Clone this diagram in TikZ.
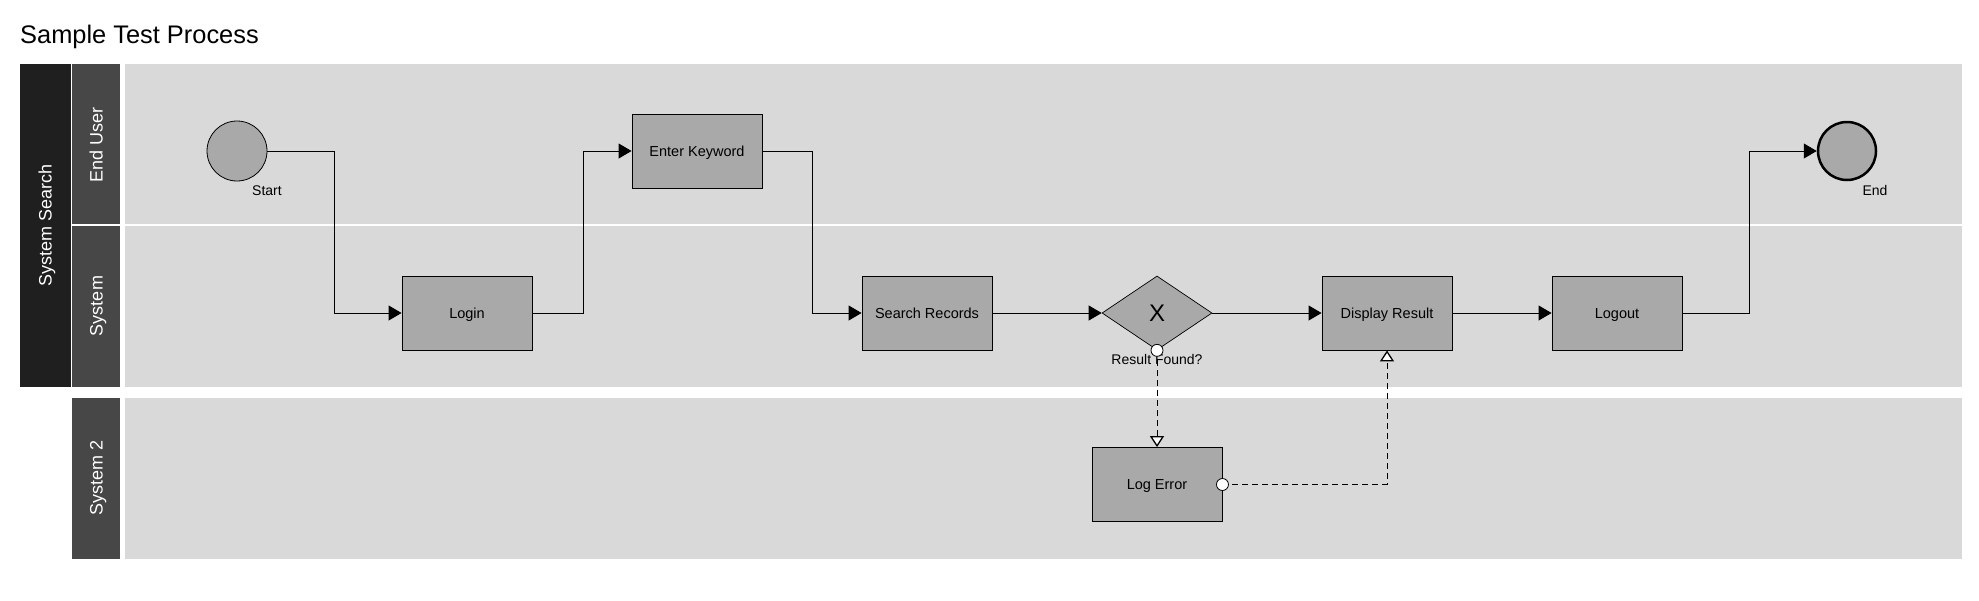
\documentclass[tikz,border=0pt]{standalone}
\usepackage{fontspec}
\setmainfont{Liberation Sans}
\usetikzlibrary{arrows.meta,shapes.geometric,calc}
\definecolor{poolc}{HTML}{1F1F1F}
\definecolor{lanec}{HTML}{474747}
\definecolor{bgc}{HTML}{D9D9D9}
\definecolor{taskc}{HTML}{A9A9A9}
\begin{document}
\begin{tikzpicture}[x=1pt,y=-1pt,
  task/.style={draw=black, fill=taskc, minimum width=130pt, minimum height=74pt, line width=0.9pt, inner sep=0pt, text height=10.4pt, text depth=0pt, font=\fontsize{14.5}{17}\selectfont},
  evt/.style={circle, draw=black, fill=taskc, minimum size=60pt, inner sep=0pt},
  gate/.style={diamond, draw=black, fill=taskc, minimum width=110pt, minimum height=74pt, inner sep=0pt, line width=0.7pt, text height=17pt, text depth=0pt, font=\fontsize{24}{26}\selectfont},
  lbl/.style={font=\fontsize{14}{16}\selectfont, inner sep=0pt, text height=10pt, text depth=0pt},
  hdr/.style={rotate=90, text=white, font=\fontsize{18}{20}\selectfont, inner sep=0pt, text height=13pt, text depth=0pt},
  flow/.style={draw=black, line width=0.9pt, -{Triangle[length=13pt,width=15pt]}},
  msg/.style={draw=black, line width=0.9pt, dash pattern=on 6pt off 4pt, -{Triangle[length=11pt,width=14pt,fill=white,line width=1.3pt]}},
  port/.style={circle, draw=black, fill=white, minimum size=12pt, inner sep=0pt, line width=0.8pt}
]
\useasboundingbox (0,0) rectangle (1979,600);
\fill[white] (0,0) rectangle (1979,600);
% title
\node[anchor=base west, inner sep=0pt, font=\fontsize{25.4}{28}\selectfont] (title) at (20,43) {Sample Test Process};
% pool
\fill[poolc] (20,64) rectangle (71,387);
\fill[lanec] (72,64) rectangle (120,387);
\fill[bgc] (125,64) rectangle (1962,387);
\draw[white, line width=1.3pt] (72,225) -- (1962,225);
\fill[lanec] (72,398) rectangle (120,559);
\fill[bgc] (125,398) rectangle (1962,559);
\node[hdr] (poolname) at (45,225) {System Search};
\node[hdr] (lane1) at (96,145) {End User};
\node[hdr] (lane2) at (96,306) {System};
\node[hdr] (lane3) at (96,478) {System 2};
% nodes
\node[evt, line width=0.8pt] (start) at (237,151) {};
\node[lbl] (startl) at (267,190) {Start};
\node[task] (login) at (467,313) {Login};
\node[task] (enter) at (697,151) {Enter Keyword};
\node[task] (search) at (927,313) {Search Records};
\node[gate] (gw) at (1157,313) {X};
\node[lbl] (gwl) at (1157,359) {Result Found?};
\node[task] (disp) at (1387,313) {Display Result};
\node[task] (logout) at (1617,313) {Logout};
\node[evt, minimum size=58pt, line width=2.5pt] (end) at (1847,151) {};
\node[lbl] (endl) at (1875,190) {End};
\node[task] (logerr) at (1157,484.5) {Log Error};
% flows
\draw[flow] (start.east) -- ++(67,0) |- (login.west);
\draw[flow] (login.east) -- ++(51,0) |- (enter.west);
\draw[flow] (enter.east) -- ++(50,0) |- (search.west);
\draw[flow] (search.east) -- (gw.west);
\draw[flow] (gw.east) -- (disp.west);
\draw[flow] (disp.east) -- (logout.west);
\draw[flow] (logout.east) -- ++(67,0) |- (end.west);
% message flows
\draw[msg] (gw.south) -- (logerr.north);
\draw[msg] (logerr.east) -| (disp.south);
\node[port] (p1) at (gw.south) {};
\node[port] (p2) at (logerr.east) {};
\end{tikzpicture}
\end{document}
